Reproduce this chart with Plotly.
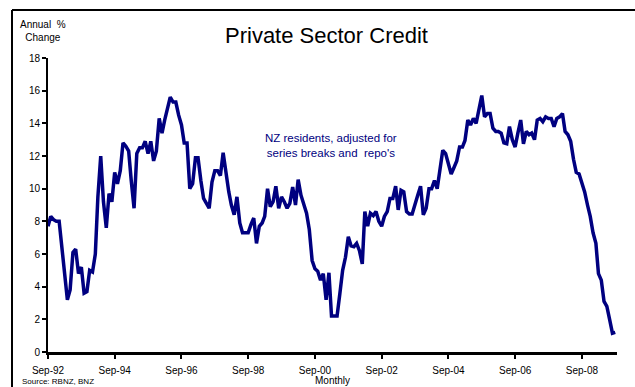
import pandas as pd
import plotly.graph_objects as go

# ---- data (annual % change, monthly from Sep-92) ----
start_month = "1992-09-01"
credit_growth = [
    7.7, 8.3, 8.1, 8.0, 8.0, 6.4, 4.6, 3.2, 3.8, 6.1,
    6.3, 4.8, 5.2, 3.6, 3.7, 5.0, 4.9, 6.0, 9.5, 12.0,
    9.2, 7.6, 9.7, 9.2, 11.0, 10.3, 11.1, 12.8, 12.6, 12.3,
    10.5, 8.8, 12.15, 12.5, 12.5, 12.9, 12.15, 12.9, 11.7, 12.3,
    14.3, 13.4, 14.2, 15.0, 15.6, 15.3, 15.3, 14.5, 13.9, 12.8,
    12.8, 10.0, 10.3, 11.9, 11.9, 10.5, 9.4, 9.1, 8.8, 10.4,
    11.1, 11.1, 10.8, 12.2, 10.9, 9.8, 9.0, 8.4, 9.5, 7.9,
    7.3, 7.3, 7.3, 7.8, 8.2, 6.65, 7.7, 7.9, 8.3, 10.0,
    8.9, 9.2, 10.15, 8.8, 9.5, 9.2, 8.8, 9.1, 10.1, 9.0,
    10.55, 9.6, 9.0, 8.5, 7.5, 5.6, 5.1, 4.95, 4.4, 4.8,
    3.2, 4.85, 2.2, 2.2, 2.2, 3.6, 5.0, 5.8, 7.05, 6.5,
    6.45, 6.65, 6.2, 5.4, 8.6, 7.7, 8.5, 8.35, 8.6, 8.0,
    7.7, 8.3, 8.6, 9.4, 9.4, 10.15, 8.7, 9.9, 9.8, 8.6,
    8.45, 8.45, 9.1, 9.6, 10.15, 8.4, 8.8, 10.0, 10.0, 10.5,
    10.0, 11.2, 12.35, 12.15, 11.45, 10.9, 11.3, 11.7, 12.55, 12.55,
    12.95, 14.2, 13.9, 14.3, 14.0, 15.0, 15.7, 14.4, 14.6, 14.6,
    13.7, 13.5, 13.5, 13.4, 12.8, 12.75, 13.8, 13.0, 12.55, 13.4,
    14.2, 12.75, 13.5, 13.3, 13.4, 13.0, 14.2, 14.3, 14.1, 14.4,
    14.3, 14.3, 13.8, 14.3, 14.4, 14.6, 13.5, 13.3, 12.9, 11.8,
    11.0, 10.9, 10.3, 9.8, 9.0, 8.3, 7.3, 6.65, 4.8, 4.4,
    3.1, 2.8, 2.0, 1.15, 1.2,
]
tick_dates = ["1992-09-01", "1994-09-01", "1996-09-01", "1998-09-01", "2000-09-01",
              "2002-09-01", "2004-09-01", "2006-09-01", "2008-09-01"]
tick_labels = ["Sep-92", "Sep-94", "Sep-96", "Sep-98", "Sep-00",
               "Sep-02", "Sep-04", "Sep-06", "Sep-08"]
y_ticks = list(range(0, 19, 2))

dates = pd.date_range(start_month, periods=len(credit_growth), freq="MS")

W, H = 635, 387
ML, MR, MT, MB = 48, 18, 58, 35
PW, PH = W - ML - MR, H - MT - MB


def px(x):
    return (x - ML) / PW


def py(y):
    return (H - MB - y) / PH


FONT = "Liberation Sans, Arial, sans-serif"
NAVY = "#000080"

fig = go.Figure()
fig.add_trace(go.Scatter(
    x=dates, y=credit_growth, mode="lines",
    line=dict(color=NAVY, width=3.5), hoverinfo="skip", showlegend=False,
))

fig.update_layout(
    width=W, height=H,
    margin=dict(l=ML, r=MR, t=MT, b=MB, pad=0),
    paper_bgcolor="white", plot_bgcolor="white",
    font=dict(family=FONT, size=10, color="black"),
    showlegend=False,
    xaxis=dict(
        type="date", range=["1992-09-01", "2009-09-20"],
        tickmode="array", tickvals=tick_dates, ticktext=tick_labels,
        showgrid=False, zeroline=False, showline=True, linecolor="black", linewidth=2.5,
        ticks="outside", ticklen=4, tickwidth=1.5, tickcolor="black",
        ticklabelstandoff=3,
        tickfont=dict(family=FONT, size=10, color="black"),
    ),
    yaxis=dict(
        range=[0, 18], tickmode="array", tickvals=y_ticks,
        showgrid=False, zeroline=False, showline=True, linecolor="black", linewidth=2,
        ticks="outside", ticklen=4, tickwidth=1.5, tickcolor="black",
        tickfont=dict(family=FONT, size=10, color="black"),
    ),
    shapes=[
        dict(type="line", xref="paper", yref="paper",
             x0=px(12), x1=px(12), y0=py(10), y1=py(H + 5),
             line=dict(color="black", width=2)),
        dict(type="line", xref="paper", yref="paper",
             x0=px(12), x1=px(W + 5), y0=py(10), y1=py(10),
             line=dict(color="black", width=2)),
    ],
    annotations=[
        dict(text="Private Sector Credit", xref="paper", yref="paper",
             x=px(326), y=py(35), xanchor="center", yanchor="middle", showarrow=False,
             font=dict(family=FONT, size=22, color="black")),
        dict(text="Annual  %<br>Change", xref="paper", yref="paper",
             x=px(43), y=py(31), xanchor="center", yanchor="middle", showarrow=False,
             font=dict(family=FONT, size=10, color="black")),
        dict(text="NZ residents, adjusted for<br>series breaks and  repo's", xref="paper", yref="paper",
             x=px(331), y=py(145), xanchor="center", yanchor="middle", showarrow=False,
             font=dict(family=FONT, size=11.5, color=NAVY)),
        dict(text="Source: RBNZ, BNZ", xref="paper", yref="paper",
             x=px(20), y=py(381.5), xanchor="left", yanchor="middle", showarrow=False,
             font=dict(family=FONT, size=8, color="black")),
        dict(text="Monthly", xref="paper", yref="paper",
             x=px(332), y=py(380.5), xanchor="center", yanchor="middle", showarrow=False,
             font=dict(family=FONT, size=10, color="black")),
    ],
)

fig.write_html("out.html")
